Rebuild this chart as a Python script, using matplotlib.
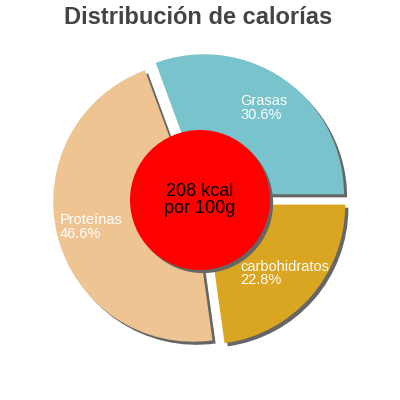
import matplotlib.pyplot as plt
import matplotlib.patches as mpatches

# values
labels = ['Grasas', 'Proteínas', 'carbohidratos']
shares = [30.6, 46.6, 22.8]
colors = ['#78c3cc', '#eec592', '#daa520']
kcal = 208
title = 'Distribución de calorías'

plt.rcParams['font.family'] = ['Liberation Sans', 'DejaVu Sans']

fig = plt.figure(figsize=(4, 4), dpi=100)
ax = fig.add_axes([0, 0, 1, 1])

wedges, texts = ax.pie(
    shares,
    labels=[f'{l}\n{v:.1f}%' for l, v in zip(labels, shares)],
    colors=colors,
    explode=[0.05] * len(shares),
    startangle=0,
    counterclock=True,
    labeldistance=0.75,
    textprops={'color': 'white', 'fontsize': 10.5},
    wedgeprops={'linewidth': 0, 'zorder': 2},
)
for t in texts:
    t.set_ha('center')
    t.set_va('center')
    t.set_multialignment('left')
    t.set_linespacing(0.95)
    t.set_zorder(3)

# grey drop shadows, down and to the right
# (Shadow offset is in data units * dpi/72)
off = 0.016
for w in wedges:
    ax.add_patch(mpatches.Shadow(w, off, -off, facecolor='#666666',
                                 edgecolor='none', alpha=1, zorder=1))

circle = mpatches.Circle((0, 0), 0.5, facecolor='#ff0000', edgecolor='none', zorder=5)
ax.add_patch(circle)
ax.add_patch(mpatches.Shadow(circle, off, -off, facecolor='#666666',
                             edgecolor='none', alpha=1, zorder=4))
ax.text(0, 0, f'{kcal} kcal\npor 100g', ha='center', va='center', fontsize=13,
        color='black', zorder=6, linespacing=0.95)

ax.set_xlim(-1.4286, 1.4286)
ax.set_ylim(-1.4286, 1.4286)
ax.set_aspect('equal')
ax.axis('off')

fig.text(0.495, 0.985, title, ha='center', va='top', fontsize=17,
         fontweight='bold', color='#444444')

fig.savefig('out.png', dpi=100)
